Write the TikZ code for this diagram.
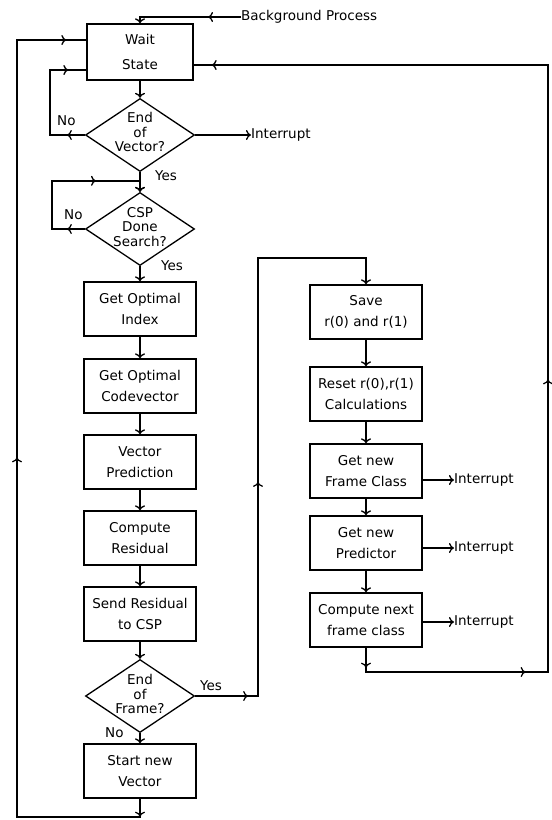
\documentclass[tikz,border=0pt]{standalone}
\usepackage{fontspec}
\setmainfont{DejaVu Sans}
\usetikzlibrary{shapes.geometric}
\usetikzlibrary{arrows.meta}
\usetikzlibrary{decorations.markings}

\tikzset{
    procbox/.style={rectangle, draw, line width=1.3pt,
        minimum width=112pt, minimum height=54pt, inner sep=1pt,
        align=center, font=\fontsize{13.5}{21}\selectfont},
    decision/.style={diamond, draw, line width=1.3pt,
        minimum width=109pt, minimum height=73pt, inner sep=0pt},
    dtext/.style={align=center, inner sep=0pt, font=\fontsize{13.5}{14.5}\selectfont},
    lbl/.style={inner sep=0pt, font=\fontsize{13.5}{14}\selectfont},
    line/.style={line width=1.3pt},
    flow/.style={line width=1.3pt, -{To[length=5pt,width=10pt]}},
    marr/.style={postaction={decorate, decoration={markings,
        mark=at position #1 with {\arrow{To[length=5pt,width=10pt]}}}}}
}

\begin{document}
\begin{tikzpicture}[x=1pt, y=-1pt]

        \useasboundingbox (0,0) rectangle (552,820);

        \node[procbox, minimum width=106pt, minimum height=56pt] (wait) at (140,52) {Wait\\[4pt]State};
        \node[lbl, anchor=west] (bgproc) at (241,17) {Background Process};

        \node[decision] (endvec) at (140,135) {};
        \node[dtext] (endvectxt) at (140,132) {End\\of\\Vector?};
        \node[lbl, anchor=west] (intr1) at (251,135) {Interrupt};

        \node[decision] (cspdone) at (140,229) {};
        \node[dtext] (csptxt) at (140,227) {CSP\\Done\\Search?};

        \node[procbox] (optidx) at (140,309) {Get Optimal\\Index};
        \node[procbox] (optcv) at (140,386) {Get Optimal\\Codevector};
        \node[procbox] (vecpred) at (140,462) {Vector\\Prediction};
        \node[procbox] (compres) at (140,538) {Compute\\Residual};
        \node[procbox] (sendres) at (140,614) {Send Residual\\to CSP};

        \node[decision] (endfrm) at (140,696) {};
        \node[dtext] (frmtxt) at (140,694) {End\\of\\Frame?};

        \node[procbox] (newvec) at (140,771) {Start new\\Vector};

        \node[procbox] (save) at (366,312) {Save\\r(0) and r(1)};
        \node[procbox] (reset) at (366,394) {Reset r(0),r(1)\\Calculations};
        \node[procbox] (frmcls) at (366,471) {Get new\\Frame Class};
        \node[procbox] (pred) at (366,543) {Get new\\Predictor};
        \node[procbox] (nextcls) at (366,620) {Compute next\\frame class};

        \node[lbl, anchor=west] (intr2) at (454,480) {Interrupt};
        \node[lbl, anchor=west] (intr3) at (454,548) {Interrupt};
        \node[lbl, anchor=west] (intr4) at (454,622) {Interrupt};

        \node[lbl, anchor=west] (no1) at (57,121) {No};
        \node[lbl, anchor=west] (yes1) at (155,176) {Yes};
        \node[lbl, anchor=west] (no2) at (64,215) {No};
        \node[lbl, anchor=west] (yes2) at (161,266) {Yes};
        \node[lbl, anchor=west] (yes3) at (200,686) {Yes};
        \node[lbl, anchor=west] (no3) at (105,733) {No};

        \coordinate (rtop) at (258,258);
        \coordinate (rbot) at (548,672);
        \coordinate (rcorner) at (548,65);
        \coordinate (lbot) at (17,817);

        \draw[flow, marr=33pt] (bgproc.west) -| (wait.north);
        \draw[flow] (wait) -- (endvec);
        \draw[flow] (endvec.east) -- (intr1.west);
        \draw[line, marr=18pt, marr=-18pt] (endvec.west) -- ++(-35,0) |- ([yshift=-18pt]wait.west);
        \draw[flow] (endvec) -- (cspdone);
        \draw[flow, marr=18pt, marr=-55pt] (cspdone.west) -- ++(-33,0) |- ([yshift=11pt]cspdone.north) -- (cspdone.north);
        \draw[flow] (cspdone) -- (optidx);
        \draw[flow] (optidx) -- (optcv);
        \draw[flow] (optcv) -- (vecpred);
        \draw[flow] (vecpred) -- (compres);
        \draw[flow] (compres) -- (sendres);
        \draw[flow] (sendres) -- (endfrm);
        \draw[flow] (endfrm) -- (newvec);

        \draw[flow, marr=53pt, marr=277pt] (endfrm.east) -| (rtop) -| (save.north);
        \draw[flow] (save) -- (reset);
        \draw[flow] (reset) -- (frmcls);
        \draw[flow] (frmcls) -- (pred);
        \draw[flow] (pred) -- (nextcls);
        \draw[flow] (intr2.west -| frmcls.east) -- (intr2.west);
        \draw[flow] (intr3.west -| pred.east) -- (intr3.west);
        \draw[flow] (intr4.west -| nextcls.east) -- (intr4.west);

        \draw[line, marr=20pt, marr=184pt, marr=499pt, marr=-18pt] (nextcls.south) |- (rbot) -- (rcorner) -- ([yshift=-13pt]wait.east);
        \draw[line, marr=18pt, marr=501pt, marr=-20pt] (newvec.south) |- (lbot) |- ([yshift=12pt]wait.west);

\end{tikzpicture}
\end{document}
